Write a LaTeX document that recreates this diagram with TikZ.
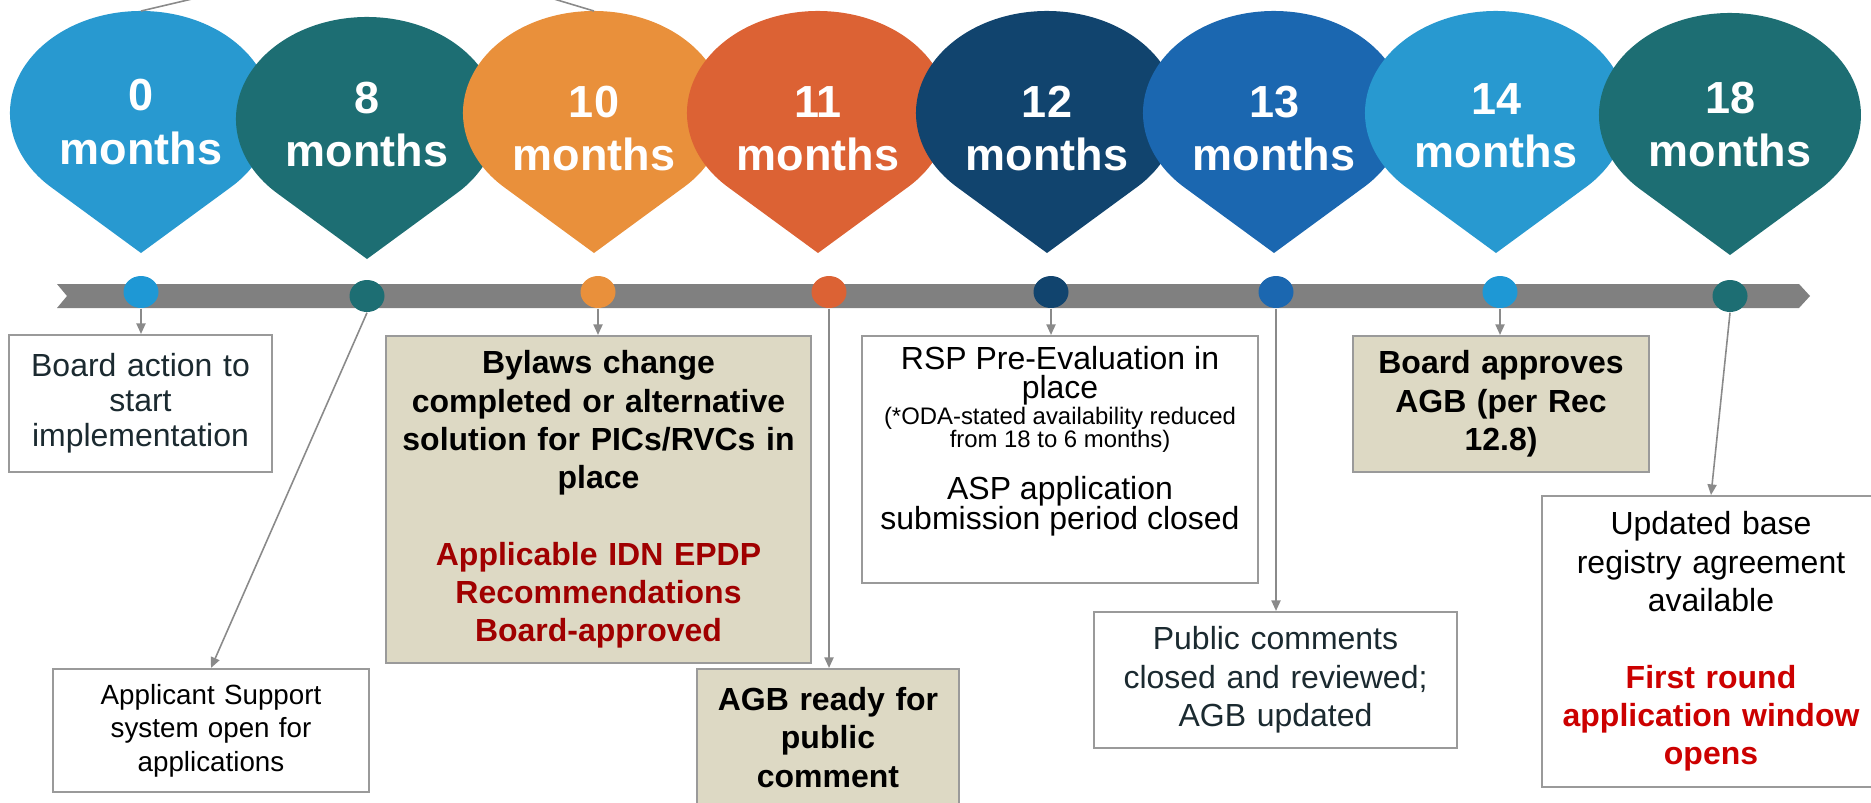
\documentclass[tikz,border=0pt]{standalone}
\usepackage{fontspec}
\setmainfont{Liberation Sans}
\usetikzlibrary{shapes.geometric, arrows.meta}

\definecolor{skyblue}{HTML}{2899D0}
\definecolor{dotblue}{HTML}{1E98D5}
\definecolor{pinteal}{HTML}{1D6E73}
\definecolor{pinorange}{HTML}{E9903B}
\definecolor{pinred}{HTML}{DC6234}
\definecolor{pinnavy}{HTML}{11446E}
\definecolor{pinblue}{HTML}{1B67B0}
\definecolor{bargray}{HTML}{808080}
\definecolor{linegray}{HTML}{8A8A8A}
\definecolor{boxgray}{HTML}{9A9A9A}
\definecolor{beige}{HTML}{DDD9C4}
\definecolor{slate}{HTML}{1B2A30}
\definecolor{darkred}{HTML}{A00000}
\definecolor{brightred}{HTML}{CC0000}

\begin{document}
\begin{tikzpicture}

\tikzset{pin/.pic = {
    \path[pic actions] (0,-1.40) -- (0.898,-0.742)
        arc[start angle=-46.7, end angle=226.7, x radius=1.31, y radius=1.02] -- cycle;
    \coordinate (-top) at (0,1.02);
}}
\tikzset{months/.style = {text=white, font=\fontsize{12.8}{15.1}\selectfont\bfseries, align=center, text width=2.2cm, inner sep=0pt}}
\tikzset{dot/.style = {ellipse, minimum width=0.35cm, minimum height=0.32cm, inner sep=0pt}}
\tikzset{event/.style = {draw=boxgray, line width=0.6pt, fill=white, font=\fontsize{9.1}{10.9}\selectfont, align=center, inner sep=0pt}}
\tikzset{done/.style = {event, fill=beige, font=\fontsize{9.1}{10.9}\selectfont\bfseries}}
\tikzset{link/.style = {linegray, line width=0.45pt, -{Triangle[length=3pt, width=2.6pt]}}}

\useasboundingbox (0,0) rectangle (18.71,-8.02);

% pins
\pic[fill=skyblue] (p0) at (1.41,-1.13) {pin};
\pic[fill=pinteal] (p8) at (3.67,-1.19) {pin};
\pic[fill=pinorange] (p10) at (5.94,-1.13) {pin};
\pic[fill=pinred] (p11) at (8.18,-1.13) {pin};
\pic[fill=pinnavy] (p12) at (10.47,-1.13) {pin};
\pic[fill=pinblue] (p13) at (12.74,-1.13) {pin};
\pic[fill=skyblue] (p14) at (14.96,-1.13) {pin};
\pic[fill=pinteal] (p18) at (17.30,-1.15) {pin};

\node[months] (m0) at (1.41,-1.22) {0\\months};
\node[months] (m8) at (3.67,-1.245) {8\\months};
\node[months] (m10) at (5.94,-1.285) {10\\months};
\node[months] (m11) at (8.18,-1.285) {11\\months};
\node[months] (m12) at (10.47,-1.285) {12\\months};
\node[months] (m13) at (12.74,-1.285) {13\\months};
\node[months] (m14) at (14.96,-1.255) {14\\months};
\node[months] (m18) at (17.30,-1.245) {18\\months};

% lines leaving the top
\coordinate (off0) at (1.92,0.01);
\coordinate (off10) at (5.54,0.01);
\draw[linegray, line width=0.45pt] (p0-top) -- (off0);
\draw[linegray, line width=0.45pt] (off10) -- (p10-top);

% timeline
\fill[bargray] (0.57,-2.84) -- (17.99,-2.84) -- (18.10,-2.96) -- (17.99,-3.08)
    -- (0.57,-3.08) -- (0.67,-2.96) -- cycle;

\node[dot, fill=dotblue] (t0) at (1.41,-2.92) {};
\node[dot, fill=pinteal] (t8) at (3.67,-2.96) {};
\node[dot, fill=pinorange] (t10) at (5.98,-2.92) {};
\node[dot, fill=pinred] (t11) at (8.29,-2.92) {};
\node[dot, fill=pinnavy] (t12) at (10.51,-2.92) {};
\node[dot, fill=pinblue] (t13) at (12.76,-2.92) {};
\node[dot, fill=dotblue] (t14) at (15.00,-2.92) {};
\node[dot, fill=pinteal] (t18) at (17.30,-2.96) {};

% events
\node[event, text=slate, font=\fontsize{9.1}{10}\selectfont, minimum width=2.63cm, text width=2.5cm, minimum height=1.37cm]
    (e0) at (1.405,-4.035) {Board action to\\start\\implementation};
\node[event, font=\fontsize{7.9}{9.5}\selectfont, minimum width=3.16cm, text width=3.0cm, minimum height=1.23cm]
    (e8) at (2.11,-7.305) {Applicant Support\\system open for\\applications};
\node[done, minimum width=4.25cm, text width=4.1cm, minimum height=3.27cm]
    (e10) at (5.985,-4.995) {Bylaws change\\completed or alternative\\solution for PICs/RVCs in\\place\\[10.9pt]\color{darkred}Applicable IDN EPDP\\Recommendations\\Board-approved};
\node[done, minimum width=2.62cm, text width=2.5cm, minimum height=1.37cm]
    (e11) at (8.28,-7.375) {AGB ready for\\public\\comment};
\node[event, minimum width=3.96cm, minimum height=2.47cm]
    (e12) at (10.60,-4.595) {\parbox{3.8cm}{\centering\fontsize{9.1}{8.5}\selectfont\lineskiplimit=-10pt
    RSP Pre-Evaluation in\\place\par
    \vspace{0.6pt}{\fontsize{6.8}{6.6}\selectfont (*ODA-stated availability reduced\\from 18 to 6 months)\par}
    \vspace{6.3pt}
    ASP application\\submission period closed\par
    \vspace{4pt}\hbox{}}};
\node[event, text=slate, minimum width=3.63cm, text width=3.5cm, minimum height=1.36cm]
    (e13) at (12.755,-6.80) {Public comments\\closed and reviewed;\\AGB updated};
\node[done, minimum width=2.96cm, text width=2.8cm, minimum height=1.36cm]
    (e14) at (15.01,-4.04) {Board approves\\AGB (per Rec\\12.8)};
\node[event, minimum width=3.38cm, text width=3.2cm, minimum height=2.91cm]
    (e18) at (17.11,-6.415) {Updated base\\registry agreement\\available\\[10.9pt]\color{brightred}\bfseries First round\\application window\\opens};

% links
\draw[link] (t0.south) -- (t0.south |- e0.north);
\draw[link] (t8.south) -- (e8.north);
\draw[link] (t10.south) -- (t10.south |- e10.north);
\draw[link] (t11.south) -- (t11.south |- e11.north);
\draw[link] (t12.south) -- (t12.south |- e12.north);
\draw[link] (t13.south) -- (t13.south |- e13.north);
\draw[link] (t14.south) -- (t14.south |- e14.north);
\draw[link] (t18.south) -- (e18.north);

\end{tikzpicture}
\end{document}
